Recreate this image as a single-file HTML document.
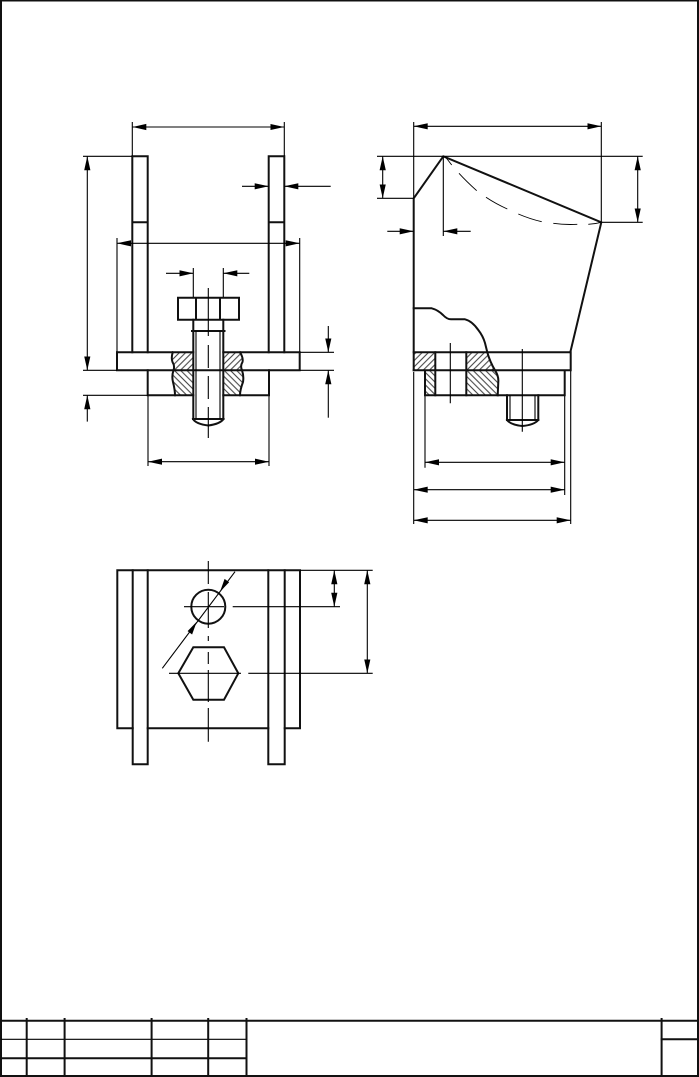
<!DOCTYPE html>
<html><head><meta charset="utf-8"><style>
html,body{margin:0;padding:0;background:#fff}
svg{display:block}
.m{stroke:#111;stroke-width:2;fill:none;stroke-linecap:square;stroke-linejoin:miter}
.t{stroke:#000;stroke-width:1.1;fill:none}
.d{stroke:#000;stroke-width:1.1;fill:none;marker-end:url(#a)}
.b{stroke:#000;stroke-width:1.1;fill:none;marker-start:url(#as);marker-end:url(#a)}
.h{stroke:none}
</style></head><body>
<svg width="699" height="1077" viewBox="0 0 699 1077" xmlns="http://www.w3.org/2000/svg">
<defs>
<marker id="a" markerUnits="userSpaceOnUse" markerWidth="15" markerHeight="7" refX="14" refY="3.5" orient="auto"><path d="M0 0.4L14 3.5L0 6.6z" fill="#000"/></marker>
<marker id="as" markerUnits="userSpaceOnUse" markerWidth="15" markerHeight="7" refX="0" refY="3.5" orient="auto"><path d="M14 0.4L0 3.5L14 6.6z" fill="#000"/></marker>
<pattern id="h1" patternUnits="userSpaceOnUse" width="4.4" height="4.4" patternTransform="rotate(45)"><rect width="4.4" height="4.4" fill="#fff"/><line x1="2.2" y1="0" x2="2.2" y2="4.4" stroke="#222" stroke-width="0.9"/></pattern>
<pattern id="h2" patternUnits="userSpaceOnUse" width="4.4" height="4.4" patternTransform="rotate(-45)"><rect width="4.4" height="4.4" fill="#fff"/><line x1="2.2" y1="0" x2="2.2" y2="4.4" stroke="#222" stroke-width="0.9"/></pattern>
</defs>
<rect width="699" height="1077" fill="#fff"/>

<!-- sheet frame -->
<path class="m" d="M1 0.5H698V1076H1z"/>
<path class="m" d="M1 1020.7H698M1 1058.3H246.5M661.6 1039.3H698"/>
<path class="t" d="M1 1039.3H246.5"/>
<path class="m" d="M26.7 1019V1076M64.6 1019V1076M151.6 1019V1076M208.2 1019V1076M246.5 1019V1076M661.6 1019V1076"/>

<!-- LEFT VIEW hatch -->
<path class="h" fill="url(#h1)" d="M173 352.3Q171 358 172.5 362Q175 366 173.5 370.3H193.3V352.3z"/>
<path class="h" fill="url(#h2)" d="M173.5 370.3Q171.5 376 173 382Q175 390 175 395.3H193.3V370.3z"/>
<path class="h" fill="url(#h1)" d="M223.3 352.3H240Q243.5 358 242.5 362Q240 366 242 370.3H223.3z"/>
<path class="h" fill="url(#h2)" d="M223.3 370.3H242Q244 376 243 382Q240 390 240 395.3H223.3z"/>

<!-- LEFT VIEW outlines -->
<path class="m" d="M132.3 352.3V156.3H147.7V352.3M132.3 222.3H147.7"/>
<path class="m" d="M268.7 352.3V156.3H284.3V352.3M268.7 222.3H284.3"/>
<path class="m" d="M193.3 352.3H117V370.3H223.3M223.3 352.3H299.7V370.3H223.3"/>
<path class="m" d="M147.7 370.3V395.3H193.3M269 370.3V395.3H223.3"/>
<path class="m" d="M172.7 352.3Q171 358 172.5 362Q175 366 173.5 370.3Q171.5 376 173 382Q175 390 175 395.3"/>
<path class="m" d="M240 352.3Q243.5 358 242.5 362Q240 366 242 370.3Q244 376 243 382Q240 390 240 395.3"/>
<path class="m" d="M178 297.7H239V319.7H178zM196 297.7V319.7M220 297.7V319.7"/>
<path class="m" d="M193.3 319.7V419M223.3 319.7V419M192 331H224.5M193 419H223.5"/>
<path class="m" d="M193 419Q196 424 208.3 425.5Q220 424 223.5 419"/>
<path class="t" d="M196 331V419M220 331V419"/>
<path class="t" d="M208.3 288V336M208.3 345V368M208.3 376V399M208.3 407V438"/>

<!-- LEFT VIEW dimensions -->
<path class="t" d="M132.3 122V156M284.3 122V156"/>
<path class="b" d="M132.3 127H284.3"/>
<path class="t" d="M83 156.3H132M83 370.3H117M83 395.3H148"/>
<path class="b" d="M87.3 156.3V370.3"/>
<path class="d" d="M87.3 421.6V395.3"/>
<path class="d" d="M242 186.3H268.7"/>
<path class="d" d="M330.7 186.3H284.3"/>
<path class="t" d="M117 238V352M299.7 238V352"/>
<path class="b" d="M117 243.3H299.7"/>
<path class="d" d="M166 273.3H193.3"/>
<path class="d" d="M249.3 273.3H223.3"/>
<path class="t" d="M193.3 268V297M223.3 268V297"/>
<path class="t" d="M300 352.3H334M300 370.3H334"/>
<path class="d" d="M328.3 326V352.3"/>
<path class="d" d="M328.3 417.7V370.3"/>
<path class="t" d="M148 396V466M269 396V466"/>
<path class="b" d="M148 461.7H269"/>

<!-- RIGHT VIEW hatch -->
<path class="h" fill="url(#h1)" d="M413.7 352.3H435.3V370.3H413.7z"/>
<path class="h" fill="url(#h2)" d="M425 370.3H435.3V395.3H425z"/>
<path class="h" fill="url(#h1)" d="M466.3 352.3H487.3L495 370.3H466.3z"/>
<path class="h" fill="url(#h2)" d="M466.3 370.3H495Q498.5 376 498.3 382L497.7 395.3H466.3z"/>

<!-- RIGHT VIEW outlines -->
<path class="m" d="M413.7 370.3V198.3L443.3 156.3L601.3 222.3L570.3 352.3"/>
<path class="m" d="M413.7 352.3H570.7V370.3H413.7M425 370.3V395.3H564.7V370.3"/>
<path class="m" d="M435.3 352.3V395.3M466.3 352.3V395.3"/>
<path class="m" d="M413.7 308.3H431.7Q438 310 443 315Q447 319.3 451 319.3H465Q472 321 478.3 330Q483 336 485 343L487.3 352.3Q490 362 495 370.3Q498.8 376 498.3 382L497.7 395.3"/>
<path class="m" d="M507 395.3V420M538.3 395.3V420M507 420H538.3"/>
<path class="m" d="M507 420Q511 425 522.3 426Q534 425 538.3 420"/>
<path class="t" d="M510 395.3V420M535 395.3V420"/>
<path class="t" d="M450.3 343V403.3M522.3 349V431.7"/>
<path class="t" d="M445 156.5Q448 160 451.7 165M459 173.3Q466 181 476.7 190.7M486 197.3Q496 204 507.3 209M518.3 214Q530 219 541.7 221.7M553.3 223.3Q565 225 577.3 224.3M588.3 224.3Q595 224 601.3 222.3" style="stroke-width:.9"/>

<!-- RIGHT VIEW dimensions -->
<path class="t" d="M413.7 122V198M601.3 122V222"/>
<path class="b" d="M413.7 126.3H601.3"/>
<path class="t" d="M377 156.3H642.7M377 198.3H413.7M601.3 222.3H642.7"/>
<path class="b" d="M382.7 156.3V198.3"/>
<path class="b" d="M637.7 156.3V222.3"/>
<path class="t" d="M443.3 156.3V236"/>
<path class="d" d="M387.3 231.3H413.7"/>
<path class="d" d="M470.7 231.3H443.3"/>
<path class="t" d="M425 396V467.7M564.7 396V495M413.7 372V524M570.7 371V524"/>
<path class="b" d="M425 462.3H564.7"/>
<path class="b" d="M413.7 489.7H564.7"/>
<path class="b" d="M413.7 520.3H570.7"/>

<!-- TOP VIEW -->
<path class="m" d="M117.3 570.3H300V728.3H284.7M117.3 570.3V728.3H132.7M147.7 728.3H268.3"/>
<path class="m" d="M132.7 570.3V764.3H147.7V570.3M268.3 570.3V764.3H284.7V570.3"/>
<circle class="m" cx="208.3" cy="606.7" r="17"/>
<path class="m" d="M178.3 673.3L193.3 647.3H224L238.3 673.3L224 699.7H193.3z"/>
<path class="t" d="M208.3 561V584M208.3 592V628M208.3 636V641M208.3 652V664M208.3 670V702M208.3 708V741.7"/>
<path class="t" d="M184 606.7H224M232.7 606.7H340M169 673.3H241M248.3 673.3H372.7M300 570.3H372.7"/>
<path class="b" d="M334.3 570.3V606.7"/>
<path class="b" d="M367.3 570.3V673.3"/>
<path class="t" d="M235 571.7L162.3 668.3"/>
<path fill="#000" d="M220 591.7L224.6 578.9L229.1 582.3z"/>
<path fill="#000" d="M196.7 621.7L192.1 634.5L187.6 631.1z"/>
</svg>
</body></html>
